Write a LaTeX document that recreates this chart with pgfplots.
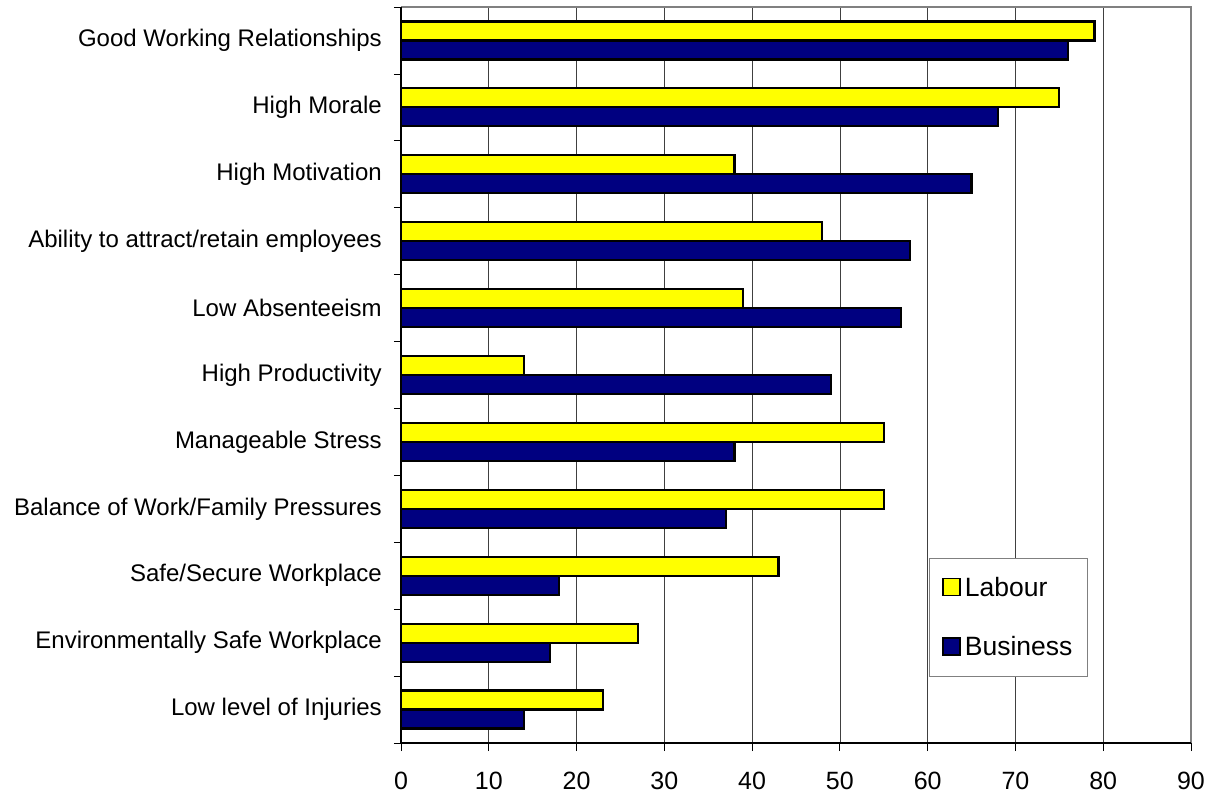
\documentclass[border=0pt]{standalone}
\usepackage{pgfplots}
\pgfplotsset{compat=1.18}
\usepackage{fontspec}
\setmainfont{Liberation Sans}
\definecolor{labour}{RGB}{255,255,0}
\definecolor{business}{RGB}{0,0,128}
\begin{document}
\begin{tikzpicture}
\begin{axis}[
 at={(0pt,0pt)}, anchor=south west,
 scale only axis, width=790pt, height=736pt,
 xbar, xmin=0, xmax=90, ymin=-0.5, ymax=10.5,
 clip=false,
 xtick={0,10,...,90},
 ytick={0,...,10},
 yticklabels={Low level of Injuries, Environmentally Safe Workplace, Safe/Secure Workplace, Balance of Work/Family Pressures, Manageable Stress, High Productivity, Low Absenteeism, Ability to attract/retain employees, High Motivation, High Morale, Good Working Relationships},
 minor ytick={-0.5,0.5,...,10.5},
 tick align=outside,
 xtick pos=bottom, ytick pos=left,
 major tick length=8pt, minor tick length=7pt,
 major y tick style={draw=none},
 minor y tick style={black, line width=0.8pt},
 major x tick style={black, line width=0.8pt},
 xmajorgrids, major grid style={black!75, line width=0.7pt},
 axis line style={draw=none},
 ticklabel style={font=\fontsize{24}{28}\selectfont},
 yticklabel style={inner sep=0pt, xshift=-11pt},
 xticklabel style={font=\fontsize{25}{28}\selectfont, inner sep=0pt, yshift=-21pt},
 /pgf/number format/assume math mode=true,
 bar width=19pt,
 legend style={at={(0.668,0.0897)}, anchor=south west, draw=gray, line width=1pt,
   font=\fontsize{26.5}{30}\selectfont, inner xsep=13pt, inner ysep=17pt, row sep=35pt},
 legend image code/.code={\path[draw=none,fill=none] (0pt,0pt) -- (20pt,0pt);\draw[#1,draw=black,line width=1.4pt] (0pt,-8pt) rectangle (17pt,9pt);},
 legend cell align=left,
]
\addplot[fill=labour, draw=black, line width=2.2pt, bar shift=9.5pt] coordinates {(23,0) (27,1) (43,2) (55,3) (55,4) (14,5) (39,6) (48,7) (38,8) (75,9) (79,10)};
\addplot[fill=business, draw=black, line width=2.2pt, bar shift=-9.5pt] coordinates {(14,0) (17,1) (18,2) (37,3) (38,4) (49,5) (57,6) (58,7) (65,8) (68,9) (76,10)};
\legend{Labour, Business}
\draw[gray, line width=1.5pt] (rel axis cs:0,1) -- (rel axis cs:1,1) -- (rel axis cs:1,0);
\draw[black, line width=1.5pt] (rel axis cs:0,1) -- (rel axis cs:0,0) -- (rel axis cs:1,0);
\end{axis}
\pgfresetboundingbox
\path[use as bounding box] (-401pt,-53pt) rectangle (810pt,743pt);
\end{tikzpicture}
\end{document}
